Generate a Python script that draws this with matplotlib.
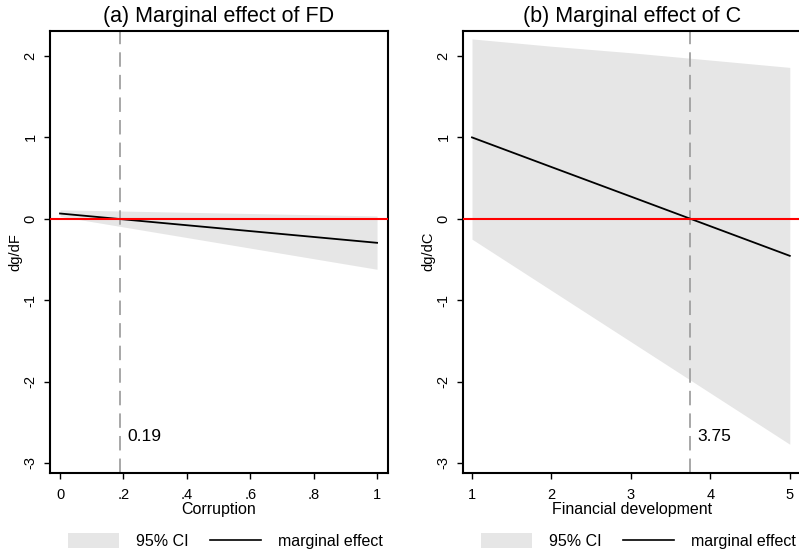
import numpy as np
import matplotlib
matplotlib.use("Agg")
import matplotlib.pyplot as plt
from matplotlib.patches import Patch
from matplotlib.lines import Line2D

plt.rcParams['font.family'] = ['Liberation Sans', 'DejaVu Sans']

# (a) marginal effect of FD over corruption
corr_x = [0.0, 0.2, 0.4, 0.6, 0.8, 1.0]
fd_effect = [0.065, -0.007, -0.079, -0.151, -0.223, -0.295]
fd_upper = [0.11, 0.095, 0.08, 0.065, 0.05, 0.035]
fd_lower = [0.03, -0.10, -0.23, -0.36, -0.49, -0.62]
fd_threshold = 0.19

# (b) marginal effect of C over financial development
fin_x = [1, 2, 3, 4, 5]
c_effect = [1.0, 0.636, 0.273, -0.091, -0.455]
c_upper = [2.21, 2.12, 2.04, 1.95, 1.86]
c_lower = [-0.25, -0.88, -1.51, -2.14, -2.77]
c_threshold = 3.75

y_ticks = [2, 1, 0, -1, -2, -3]
y_ticklabels = ["2", "1", "0", "-1", "-2", "-3"]

fig = plt.figure(figsize=(7.99, 5.57), dpi=100)
ax1 = fig.add_axes([0.0626, 0.1508, 0.4224, 0.7944])
ax2 = fig.add_axes([0.5795, 0.1508, 0.4224, 0.7944])

ci_col = '#e6e6e6'

def panel(ax, x, eff, lo, hi, thr, title, xlabel, ylabel, xticks, xticklabels, xlim, thr_text):
	ax.fill_between(x, lo, hi, color=ci_col, linewidth=0, zorder=1)
	ax.plot(x, eff, color='black', linewidth=1.3, zorder=3)
	ax.axhline(0, color='#ff0000', linewidth=1.5, zorder=4)
	ax.axvline(thr, color='#a0a0a0', linewidth=1.3, dashes=(8, 4.5), zorder=2)
	ax.text(thr + (xlim[1] - xlim[0]) * 0.02, -2.68, thr_text, fontsize=12.5, va='center', ha='left')
	ax.set_xlim(*xlim)
	ax.set_ylim(-3.123, 2.313)
	ax.set_yticks(y_ticks)
	ax.set_yticklabels(y_ticklabels, rotation=90, va='center', fontsize=10.5)
	ax.set_xticks(xticks)
	ax.set_xticklabels(xticklabels, fontsize=10.5)
	ax.tick_params(axis='both', direction='out', length=4, width=1)
	ax.tick_params(axis='x', pad=7)
	ax.tick_params(axis='y', pad=5)
	ax.set_title(title, fontsize=15.5, pad=6)
	ax.set_xlabel(xlabel, fontsize=11.5, labelpad=0)
	ax.set_ylabel(ylabel, fontsize=10.5, labelpad=1)
	for s in ax.spines.values():
		s.set_linewidth(1.5)
	handles = [Patch(facecolor=ci_col, edgecolor='none', label='95% CI'),
			   Line2D([0], [0], color='black', linewidth=1.2, label='marginal effect')]
	ax.legend(handles=handles, loc='center', bbox_to_anchor=(0.52, -0.154), ncol=2,
			  frameon=False, fontsize=11.5, handlelength=3.2, handleheight=1.1,
			  handletextpad=1.1, columnspacing=1.3)

panel(ax1, corr_x, fd_effect, fd_lower, fd_upper, fd_threshold,
	  "(a) Marginal effect of FD", "Corruption", "dg/dF",
	  [0, 0.2, 0.4, 0.6, 0.8, 1.0], ["0", ".2", ".4", ".6", ".8", "1"],
	  (-0.0315, 1.033), "0.19")
panel(ax2, fin_x, c_effect, c_lower, c_upper, c_threshold,
	  "(b) Marginal effect of C", "Financial development", "dg/dC",
	  [1, 2, 3, 4, 5], ["1", "2", "3", "4", "5"],
	  (0.887, 5.135), "3.75")

fig.savefig("out.png", dpi=100)
